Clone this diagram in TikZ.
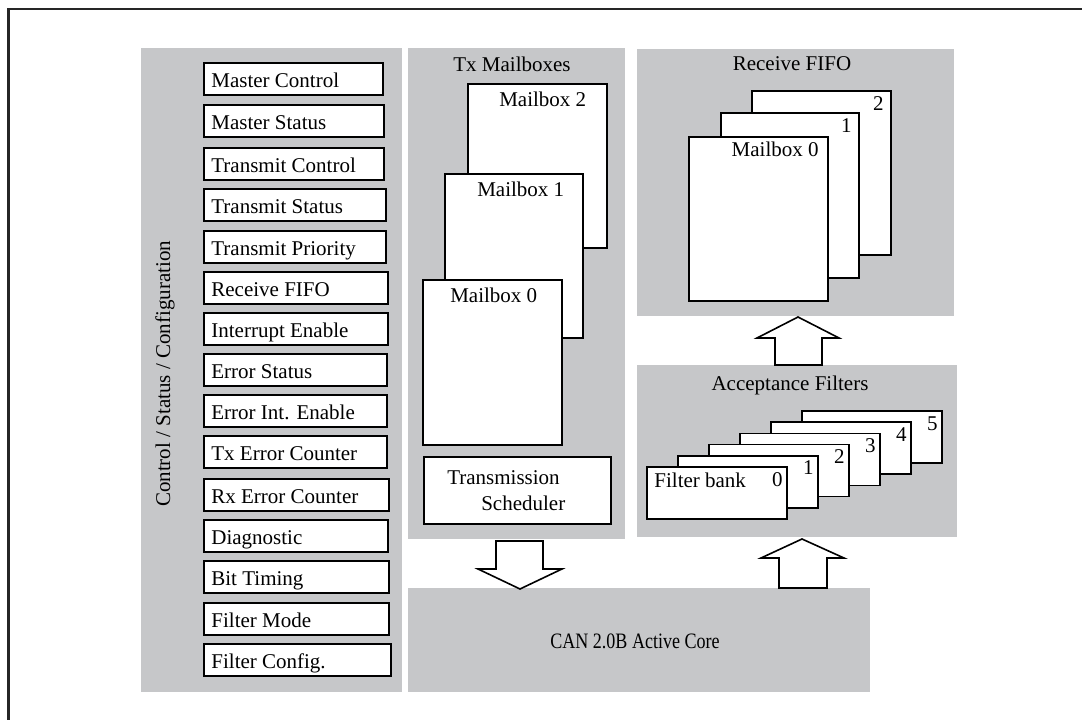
\documentclass[tikz,border=0pt]{standalone}
\usepackage{fontspec}
\setmainfont{Liberation Serif}
\usetikzlibrary{fit,calc}
\definecolor{panelgray}{RGB}{198,199,201}
\begin{document}
\begin{tikzpicture}[x=0.75pt,y=-0.75pt,
  panel/.style={fill=panelgray, draw=none, inner sep=0pt},
  wbox/.style={fill=white, draw=black, line width=1.3pt, inner sep=0pt},
  txt/.style={font=\fontsize{15.75}{18}\selectfont, inner sep=0pt},
  lbl/.style={txt, anchor=base west},
  rlbl/.style={txt, anchor=base east},
  clbl/.style={txt, anchor=base},
  blockarrow/.style={fill=white, draw=black, line width=1.2pt, line join=miter}
]
\useasboundingbox (0,0) rectangle (1082,720);
% outer frame
\draw[line width=1.6pt, black!85] (8.5,730) -- (8.5,9) -- (1095,9);

% Control / Status / Configuration panel
\node[panel, fit={(141,48) (402,692)}] (ctrl) {};
\node[txt, rotate=90, anchor=center] (ctrllbl) at (165,374) {Control / Status / Configuration};
\foreach \n/\t/\r [count=\i] in {
  Master Control/63/383, Master Status/105/384, Transmit Control/148/384,
  Transmit Status/189/386, Transmit Priority/231/386, Receive FIFO/272/388,
  Interrupt Enable/313/388, Error Status/354/387, Error Int. Enable/395/387,
  Tx Error Counter/436/387, Rx Error Counter/479/389, Diagnostic/520/388,
  Bit Timing/561/389, Filter Mode/603/389, Filter Config./644/391} {
  \node[wbox, fit={(204,\t) (\r,\t+32)}] (reg\i) {};
  \node[lbl] (regt\i) at ($(reg\i.north west)+(8,25)$) {\n};
}

% Tx Mailboxes panel
\node[panel, fit={(408,48) (625,539)}] (tx) {};
\node[clbl] (txlbl) at (512,72) {Tx Mailboxes};
\node[wbox, fit={(468,84) (607,248)}] (mb2) {};
\node[lbl] (mb2l) at (499,107) {Mailbox 2};
\node[wbox, fit={(445,174) (583,338)}] (mb1) {};
\node[lbl] (mb1l) at (477,197) {Mailbox 1};
\node[wbox, fit={(423,280) (562,445)}] (mb0) {};
\node[lbl] (mb0l) at (450,303) {Mailbox 0};
\node[wbox, fit={(424,457) (611,524)}] (sched) {};
\node[lbl] (schedl1) at (447,484) {Transmission};
\node[lbl] (schedl2) at (481,510) {Scheduler};

% CAN core panel
\node[panel, fit={(408,588) (870,692)}] (core) {};
\node[clbl, font=\fontsize{16.5}{19}\selectfont, xscale=0.82, transform shape] (corel) at (635,648) {CAN 2.0B Active Core};

% Receive FIFO panel
\node[panel, fit={(637,49) (954,316)}] (fifo) {};
\node[clbl] (fifol) at (792,71) {Receive FIFO};
\node[wbox, fit={(752,91) (891,255)}] (f2) {};
\node[rlbl] (f2l) at ($(f2.north east)+(-8,20)$) {2};
\node[wbox, fit={(721,113) (859,278)}] (f1) {};
\node[rlbl] (f1l) at ($(f1.north east)+(-8,20)$) {1};
\node[wbox, fit={(689,137) (828,301)}] (f0) {};
\node[rlbl] (f0l) at ($(f0.north east)+(-10,20)$) {Mailbox 0};

% Acceptance filters panel
\node[panel, fit={(637,365) (957,537)}] (acc) {};
\node[clbl] (accl) at (790,390) {Acceptance Filters};
\foreach \k in {5,4,3,2,1,0} {
  \node[wbox, fit={(647+31*\k,467-11.2*\k) (787+31*\k,519-11.2*\k)}] (fb\k) {};
  \node[rlbl] (fbl\k) at ($(fb\k.north east)+(-5,20)$) {\k};
}
\node[lbl] (fbname) at ($(fb0.north west)+(8,21)$) {Filter bank};

% block arrows
\draw[blockarrow] (496,541) -- (543,541) -- (543,569) -- (562,569) -- (520,589)
  -- (478,569) -- (496,569) -- cycle;
\draw[blockarrow] (775,365) -- (822,365) -- (822,338) -- (839,338) -- (798,317)
  -- (757,338) -- (775,338) -- cycle;
\draw[blockarrow] (779,588) -- (827,588) -- (827,558) -- (844,558) -- (802,539)
  -- (761,558) -- (779,558) -- cycle;
\end{tikzpicture}
\end{document}
